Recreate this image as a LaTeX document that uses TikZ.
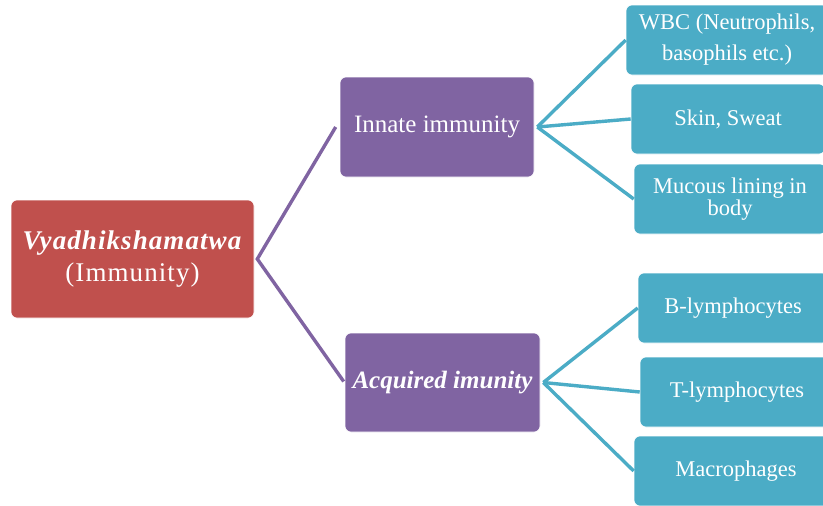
\documentclass[tikz,border=0pt]{standalone}
\usepackage{fontspec}
\setmainfont{Liberation Serif}
\definecolor{cred}{HTML}{C0504D}
\definecolor{cpurple}{HTML}{8064A2}
\definecolor{cteal}{HTML}{4BACC6}
\begin{document}
\begin{tikzpicture}[x=1pt,y=-1pt,
  boxbase/.style={rectangle,rounded corners=6pt,text=white,inner sep=0pt,align=center,draw=white,line width=0.6pt},
  rootbox/.style={boxbase,fill=cred,font=\fontsize{27}{32}\selectfont\addfontfeatures{LetterSpace=4}},
  midbox/.style={boxbase,fill=cpurple,font=\fontsize{25}{30}\selectfont},
  leafbox/.style={boxbase,fill=cteal,font=\fontsize{22.5}{22}\selectfont},
  pline/.style={cpurple,line width=3.4pt},
  tline/.style={cteal,line width=3.4pt}]
\clip (0,0) rectangle (823,506);
\fill[white] (0,0) rectangle (823,506);
\node[rootbox,minimum width=243pt,minimum height=118pt] (root) at (132.5,259)
  {\textbf{\textit{Vyadhikshamatwa}}\\(Immunity)};
\node[midbox,minimum width=194pt,minimum height=100pt] (innate) at (437,127) {Innate immunity};
\node[midbox,minimum width=195pt,minimum height=99pt] (acq) at (442.5,382.5) {\textbf{\textit{Acquired imunity}}};
\node[leafbox,minimum width=202pt,minimum height=70pt] (wbc) at (727,40) {WBC (Neutrophils,\\[9pt]basophils etc.)};
\node[leafbox,minimum width=194pt,minimum height=70pt] (skin) at (728,119) {Skin, Sweat};
\node[leafbox,minimum width=192pt,minimum height=70pt] (muc) at (730,199) {Mucous lining in\\body};
\node[leafbox,minimum width=190pt,minimum height=70pt] (blym) at (733,308) {B-lymphocytes};
\node[leafbox,minimum width=194pt,minimum height=70pt] (tlym) at (737,392) {T-lymphocytes};
\node[leafbox,minimum width=204pt,minimum height=70pt] (mac) at (736,471) {Macrophages};
\draw[pline,line join=miter] ([xshift=-4pt]innate.west) -- ([xshift=3pt]root.east) -- ([xshift=-1pt,yshift=1pt]acq.west);
\coordinate (ia) at ([xshift=3pt]innate.east);
\coordinate (aa) at ([xshift=3pt]acq.east);
\draw[tline] (ia) -- (wbc.west);
\draw[tline] (ia) -- (skin.west);
\draw[tline] (ia) -- (muc.west);
\draw[tline] (aa) -- (blym.west);
\draw[tline] (aa) -- (tlym.west);
\draw[tline] (aa) -- (mac.west);
\end{tikzpicture}
\end{document}
